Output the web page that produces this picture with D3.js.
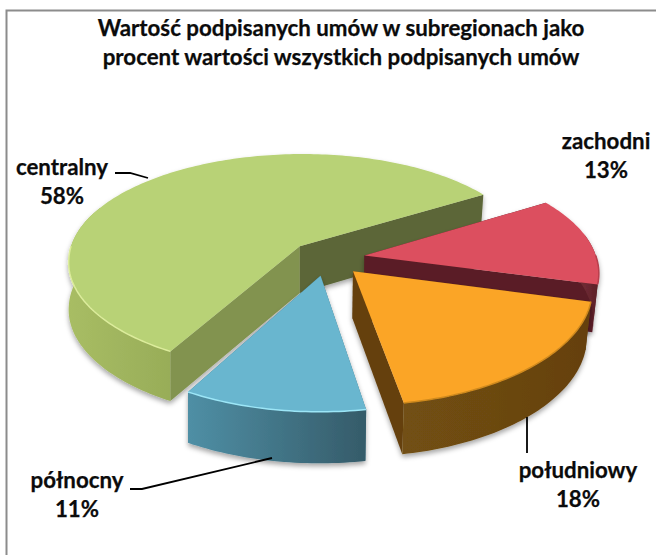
<!DOCTYPE html>
<html lang="pl">
<head>
  <meta charset="utf-8" />
  <title>Wartość podpisanych umów</title>
  <script src="https://cdnjs.cloudflare.com/ajax/libs/d3/7.8.5/d3.min.js"></script>
  <style>
    html, body { margin: 0; padding: 0; background: #fff; }
    svg { display: block; }
    text { font-family: Lato, "Open Sans", sans-serif; font-weight: 700; fill: #0b0b0b; stroke: #0b0b0b; stroke-width: 0.25px; }
  </style>
</head>
<body>
<svg id="chart" width="656" height="555"></svg>
<script>
  // values, clockwise from the back right
  const categories = ["zachodni", "południowy", "północny", "centralny"];
  const shares = [13.1, 18.1, 10.7, 58.1];
  const titleLines = ["Wartość podpisanych umów w subregionach jako", "procent wartości wszystkich podpisanych umów"];

  const topColors = ["#dc4f5f", "#fba527", "#69b6cf", "#b8d276"];
  const wallLeft = ["#6e2a33", "#725012", "#4f8fa5", "#a8bd64"];
  const wallRight = ["#5a1e26", "#654010", "#355b69", "#98ad58"];
  const startWall = ["#5a1e26", "#654010", "#3f7283", "#82934f"];   // wall along the slice's first edge
  const endWall = ["#5a1e26", "#654010", "#3f7283", "#5c6638"];     // wall along the slice's last edge
  const rimColors = ["#b83f4d", "#d08a1e", "#9ce6f7", "#dcec9c"];

  // painter's order, back to front
  const drawOrder = [3, 0, 1, 2];

  const svg = d3.select("#chart");
  const cx = 327, cy = 258;
  const radius = 232, explode = 38, depth = 47;
  const tilt = 0.46, perspNear = 0.00072, perspFar = 0.00055;

  const pie = d3.pie().sort(null)
    .startAngle(58 * Math.PI / 180)
    .endAngle(418 * Math.PI / 180);
  const slices = pie(shares);

  // ground plane (x right, y towards the viewer, z down) to screen
  function project(x, y, z) {
    const s = 1 / (1 - (y > 0 ? perspNear : perspFar) * y);
    const sx = y > 0 ? Math.pow(s, 0.85) : s;
    const zs = 1 + (s - 1) * 0.4;
    const inward = x > 0 ? 1 - 0.02 * z / depth : 1;
    return [cx + x * sx * inward, cy + tilt * y * s + z * zs];
  }

  const line = d3.line();

  function rimPoint(a, off, z) {
    return project(off[0] + radius * Math.sin(a), off[1] - radius * Math.cos(a), z);
  }

  function arcAngles(a0, a1) {
    const n = Math.max(2, Math.ceil((a1 - a0) / 0.02));
    return d3.range(n + 1).map(i => a0 + (a1 - a0) * i / n);
  }

  const defs = svg.append("defs");
  const shadow = defs.append("filter").attr("id", "shadow")
    .attr("x", "-10%").attr("y", "-10%").attr("width", "120%").attr("height", "125%");
  shadow.append("feDropShadow").attr("dx", 0).attr("dy", 3).attr("stdDeviation", 2.5)
    .attr("flood-color", "#000").attr("flood-opacity", 0.35);

  // frame, only the top and left sides show
  svg.append("path").attr("d", "M6.5,555V10.5H656").attr("fill", "none")
    .attr("stroke", "#8c8c8c").attr("stroke-width", 2);

  const pieGroup = svg.append("g");

  drawOrder.forEach(function(i) {
    const d = slices[i];
    const mid = (d.startAngle + d.endAngle) / 2;
    const off = [explode * Math.sin(mid), -explode * Math.cos(mid)];
    const apexTop = project(off[0], off[1], 0);
    const apexBottom = project(off[0], off[1], depth);
    const g = pieGroup.append("g").attr("filter", "url(#shadow)");

    // radial walls
    [[d.startAngle, startWall[i]], [d.endAngle, endWall[i]]].forEach(function(w) {
      g.append("path")
        .attr("d", line([apexTop, rimPoint(w[0], off, 0), rimPoint(w[0], off, depth), apexBottom]) + "Z")
        .attr("fill", w[1]);
    });

    // outer wall, only the part that faces the viewer
    const wa0 = Math.max(d.startAngle, Math.PI / 2 - 0.2);
    const wa1 = Math.min(d.endAngle, 3 * Math.PI / 2 + 0.4);
    if (wa1 > wa0) {
      const angles = arcAngles(wa0, wa1);
      const topEdge = angles.map(a => rimPoint(a, off, 0));
      const bottomEdge = angles.map(a => rimPoint(a, off, depth)).reverse();
      const xs = topEdge.map(p => p[0]);
      const gradId = "wall" + i;
      const grad = defs.append("linearGradient").attr("id", gradId)
        .attr("gradientUnits", "userSpaceOnUse")
        .attr("x1", d3.min(xs)).attr("x2", d3.max(xs)).attr("y1", 0).attr("y2", 0);
      grad.append("stop").attr("offset", 0).attr("stop-color", wallLeft[i]);
      grad.append("stop").attr("offset", 1).attr("stop-color", wallRight[i]);
      g.append("path")
        .attr("d", line(topEdge.concat(bottomEdge)) + "Z")
        .attr("fill", "url(#" + gradId + ")");
    }

    // top face
    const outline = arcAngles(d.startAngle, d.endAngle).map(a => rimPoint(a, off, 0));
    g.append("path")
      .attr("d", line([apexTop].concat(outline)) + "Z")
      .attr("fill", topColors[i]);

    // soft bevel along the front rim
    const ra0 = Math.max(d.startAngle, Math.PI / 2);
    const ra1 = Math.min(d.endAngle, 3 * Math.PI / 2);
    if (ra1 > ra0) {
      g.append("path")
        .attr("d", line(arcAngles(ra0, ra1).map(a => rimPoint(a, off, 0))))
        .attr("fill", "none")
        .attr("stroke", rimColors[i])
        .attr("stroke-width", 1.5);
    }
  });

  // title
  svg.append("g").selectAll("text").data(titleLines).enter().append("text")
    .attr("x", 341)
    .attr("y", (d, i) => 36 + i * 29)
    .attr("text-anchor", "middle")
    .attr("font-size", 22.3)
    .text(d => d);

  // data labels: centre x and baseline of the first line
  const labelX = [606, 578, 77, 62];
  const labelY = [149, 478, 488, 175];
  const labels = svg.append("g").selectAll("g").data(categories).enter().append("g");
  labels.append("text")
    .attr("x", (d, i) => labelX[i]).attr("y", (d, i) => labelY[i])
    .attr("text-anchor", "middle").attr("font-size", 22.3)
    .text(d => d);
  labels.append("text")
    .attr("x", (d, i) => labelX[i]).attr("y", (d, i) => labelY[i] + 29)
    .attr("text-anchor", "middle").attr("font-size", 22.3)
    .text((d, i) => d3.format(".0f")(shares[i]) + "%");

  // leader lines
  const leaders = [
    [[115, 173], [130, 173], [148, 178]],
    [[527, 417], [527, 453]],
    [[130, 489], [142, 489], [272, 458]]
  ];
  svg.append("g").selectAll("path").data(leaders).enter().append("path")
    .attr("d", d => line(d))
    .attr("fill", "none").attr("stroke", "#000").attr("stroke-width", 1.8);
</script>
</body>
</html>
